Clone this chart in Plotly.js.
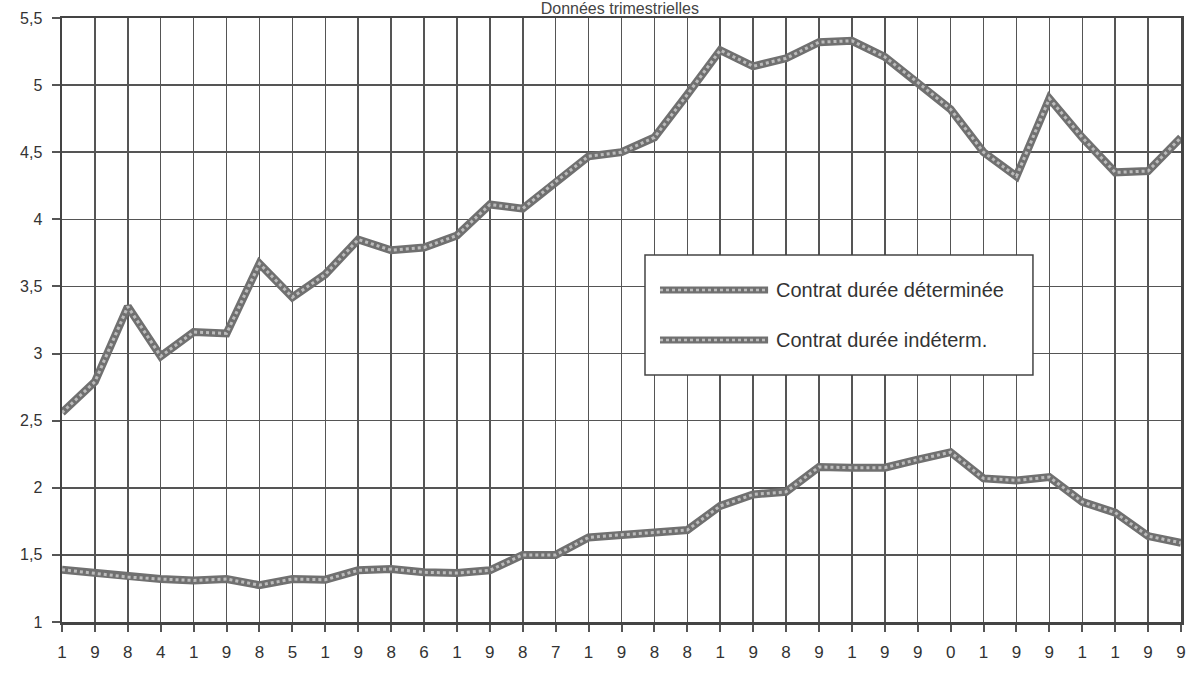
<!DOCTYPE html>
<html>
<head>
<meta charset="utf-8">
<script src="https://cdn.plot.ly/plotly-3.0.1.min.js"></script>
<style>
  html, body { margin: 0; padding: 0; background: #ffffff; }
  #chart { width: 1192px; height: 678px; }
</style>
</head>
<body>
<div id="chart"></div>
<script>
// Quarters 1984 T1 .. 1992 T3
const quarters = [
  '1984T1','1984T2','1984T3','1984T4',
  '1985T1','1985T2','1985T3','1985T4',
  '1986T1','1986T2','1986T3','1986T4',
  '1987T1','1987T2','1987T3','1987T4',
  '1988T1','1988T2','1988T3','1988T4',
  '1989T1','1989T2','1989T3','1989T4',
  '1990T1','1990T2','1990T3','1990T4',
  '1991T1','1991T2','1991T3','1991T4',
  '1992T1','1992T2','1992T3'
];
// Tick labels: one digit of the year per quarter
const tickDigits = [
  '1','9','8','4', '1','9','8','5', '1','9','8','6', '1','9','8','7',
  '1','9','8','8', '1','9','8','9', '1','9','9','0', '1','9','9','1',
  '1','9','9'
];
const seriesNames = ['Contrat durée déterminée', 'Contrat durée indéterm.'];
const cdd = [
  2.56, 2.79, 3.35, 2.98, 3.16, 3.15, 3.67, 3.42, 3.59, 3.85,
  3.77, 3.79, 3.88, 4.11, 4.08, 4.28, 4.47, 4.50, 4.61, 4.93,
  5.26, 5.14, 5.20, 5.32, 5.33, 5.21, 5.02, 4.82, 4.50, 4.32,
  4.90, 4.61, 4.35, 4.36, 4.61
];
const cdi = [
  1.39, 1.365, 1.335, 1.32, 1.31, 1.32, 1.275, 1.32, 1.315, 1.385,
  1.395, 1.37, 1.365, 1.385, 1.50, 1.50, 1.63, 1.65, 1.665, 1.685,
  1.865, 1.95, 1.97, 2.155, 2.15, 2.15, 2.21, 2.265, 2.07, 2.055,
  2.08, 1.895, 1.815, 1.64, 1.59
];
const titleText = 'Données trimestrielles';

const FONT = '"Liberation Sans", Arial, Helvetica, sans-serif';
const baseColor = '#707070';
const texColor = '#bcbcbc';

function texturedPair(y, name) {
  return [
    { x: quarters, y: y, type: 'scatter', mode: 'lines', name: name,
      line: { color: baseColor, width: 8 }, showlegend: false, hoverinfo: 'x+y' },
    { x: quarters, y: y, type: 'scatter', mode: 'lines', name: name,
      line: { color: texColor, width: 3, dash: 'dot' }, showlegend: false, hoverinfo: 'skip' }
  ];
}

const data = [].concat(texturedPair(cdd, seriesNames[0]), texturedPair(cdi, seriesNames[1]));

// Manual legend (box, samples, labels) in paper coordinates
const L = { x0: 0.521, x1: 0.8677, y0: 0.409, y1: 0.6076 };
const sampleX0 = 0.5344, sampleX1 = 0.631, textX = 0.6365;
const rowY = [0.5497, 0.4669];

const shapes = [
  { type: 'rect', xref: 'paper', yref: 'paper', x0: L.x0, x1: L.x1, y0: L.y0, y1: L.y1,
    fillcolor: '#ffffff', line: { color: '#444444', width: 1.5 }, layer: 'above' }
];
rowY.forEach(function (yy) {
  shapes.push({ type: 'line', xref: 'paper', yref: 'paper', x0: sampleX0, x1: sampleX1, y0: yy, y1: yy,
    line: { color: baseColor, width: 7 }, layer: 'above' });
  shapes.push({ type: 'line', xref: 'paper', yref: 'paper', x0: sampleX0, x1: sampleX1, y0: yy, y1: yy,
    line: { color: texColor, width: 2.5, dash: 'dot' }, layer: 'above' });
});

const annotations = seriesNames.map(function (n, i) {
  return { xref: 'paper', yref: 'paper', x: textX, y: rowY[i], xanchor: 'left', yanchor: 'middle',
    text: n, showarrow: false, font: { family: FONT, size: 20, color: '#333333' } };
});

const layout = {
  width: 1192, height: 678,
  margin: { l: 62, r: 11, t: 18, b: 56 },
  paper_bgcolor: '#ffffff', plot_bgcolor: '#ffffff',
  separators: ', ',
  showlegend: false,
  title: { text: titleText, x: 0.52, xanchor: 'center', y: 0.987, yanchor: 'middle', yref: 'container',
    font: { family: FONT, size: 16, color: '#444444' } },
  xaxis: {
    type: 'category', range: [0, quarters.length - 1],
    tickvals: quarters, ticktext: tickDigits,
    showgrid: true, gridcolor: '#555555', gridwidth: 1.5,
    showline: true, linecolor: '#444444', linewidth: 2.5, mirror: true,
    ticks: 'outside', ticklen: 7, tickwidth: 2, tickcolor: '#555555',
    ticklabelstandoff: 6,
    tickfont: { family: FONT, size: 17, color: '#333333' },
    zeroline: false, fixedrange: true
  },
  yaxis: {
    range: [1, 5.5], dtick: 0.5, tick0: 1,
    showgrid: true, gridcolor: '#555555', gridwidth: 1.5,
    showline: true, linecolor: '#444444', linewidth: 2.5, mirror: true,
    ticks: 'outside', ticklen: 8, tickwidth: 2, tickcolor: '#555555',
    ticklabelstandoff: 6,
    tickfont: { family: FONT, size: 16, color: '#333333' },
    zeroline: false, fixedrange: true
  },
  shapes: shapes,
  annotations: annotations
};

Plotly.newPlot('chart', data, layout, { displayModeBar: false, staticPlot: true });
</script>
</body>
</html>
